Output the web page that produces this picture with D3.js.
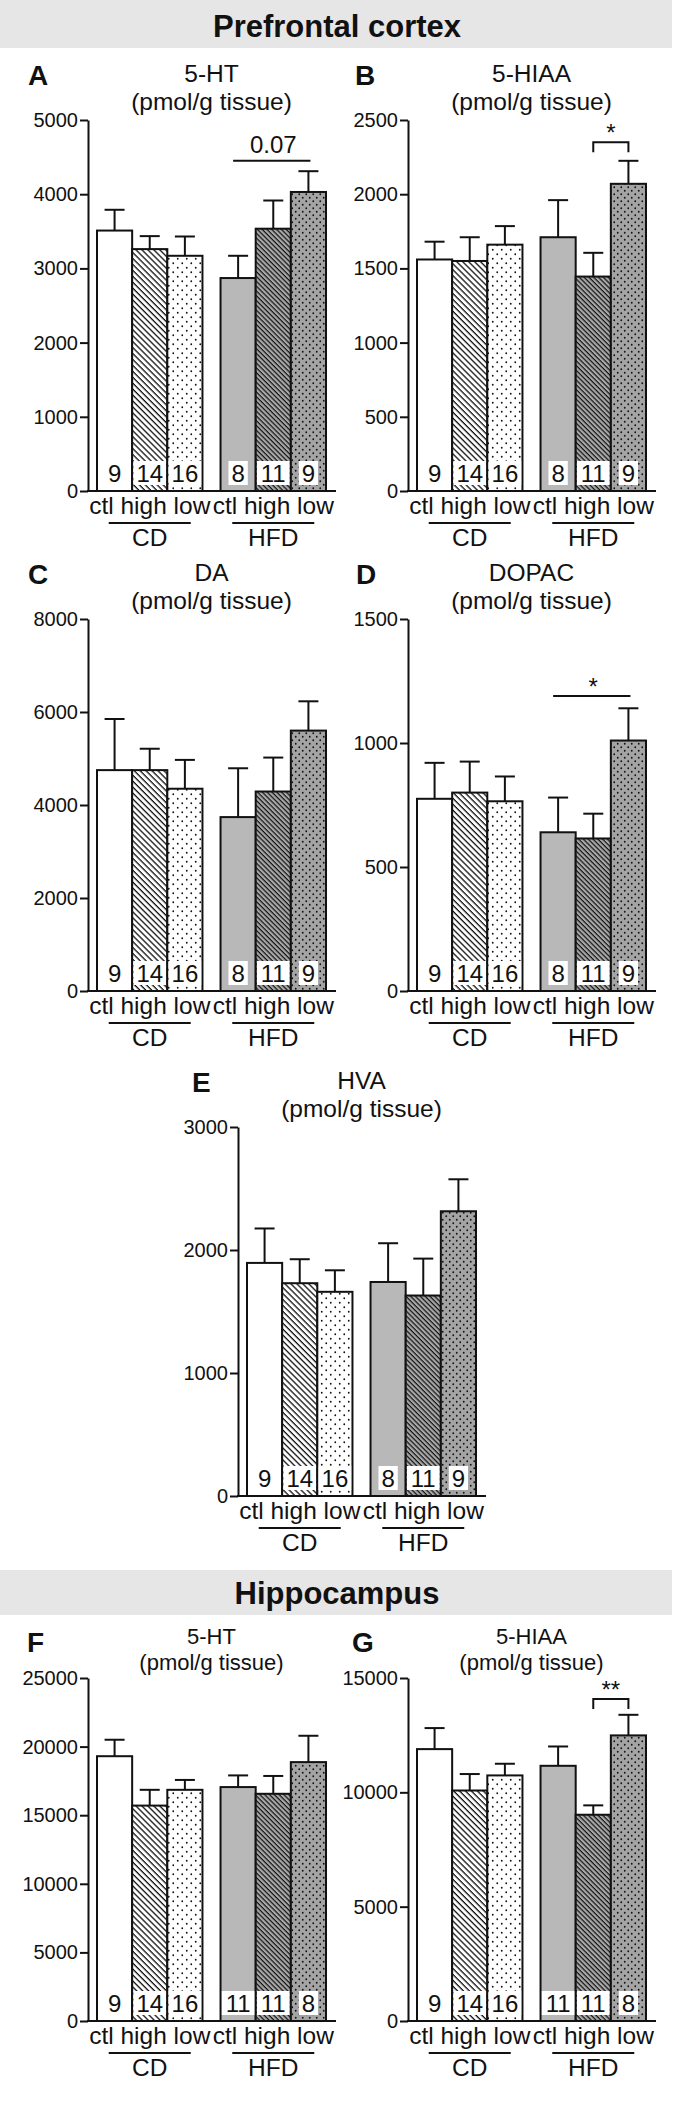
<!DOCTYPE html>
<html>
<head>
<meta charset="utf-8">
<script src="https://cdn.jsdelivr.net/npm/d3@7"></script>
<style>
body { margin: 0; background: #fff; }
svg text { font-family: "Liberation Sans", Arial, Helvetica, sans-serif; fill: #111; }
</style>
</head>
<body>
<div id="chart"></div>
<script>
// diets and treatments, bars go CD ctl/high/low then HFD ctl/high/low
var diets = ['CD', 'HFD'];
var treatments = ['ctl', 'high', 'low'];
var nPrefrontal = [9, 14, 16, 8, 11, 9];
var nHippocampus = [9, 14, 16, 11, 11, 8];

// prefrontal cortex (pmol/g tissue), mean and SEM
var pfc5htMean = [3510, 3260, 3170, 2870, 3535, 4030];
var pfc5htSem = [280, 175, 260, 300, 380, 280];
var pfc5htTicks = [0, 1000, 2000, 3000, 4000, 5000];

var pfc5hiaaMean = [1560, 1550, 1660, 1710, 1445, 2070];
var pfc5hiaaSem = [120, 160, 125, 250, 160, 155];
var pfc5hiaaTicks = [0, 500, 1000, 1500, 2000, 2500];

var pfcDaMean = [4750, 4750, 4350, 3740, 4290, 5600];
var pfcDaSem = [1100, 460, 620, 1050, 730, 630];
var pfcDaTicks = [0, 2000, 4000, 6000, 8000];

var pfcDopacMean = [775, 800, 765, 640, 615, 1010];
var pfcDopacSem = [145, 125, 100, 140, 100, 130];
var pfcDopacTicks = [0, 500, 1000, 1500];

var pfcHvaMean = [1895, 1730, 1660, 1740, 1630, 2315];
var pfcHvaSem = [280, 195, 175, 315, 300, 260];
var pfcHvaTicks = [0, 1000, 2000, 3000];

// hippocampus
var hip5htMean = [19300, 15700, 16850, 17050, 16560, 18870];
var hip5htSem = [1200, 1150, 720, 850, 1300, 1920];
var hip5htTicks = [0, 5000, 10000, 15000, 20000, 25000];

var hip5hiaaMean = [11890, 10080, 10740, 11160, 9020, 12490];
var hip5hiaaSem = [920, 720, 510, 845, 410, 900];
var hip5hiaaTicks = [0, 5000, 10000, 15000];

// significance marks: bar indices, level in data units, label
var pfc5htSig = { from: 3, to: 5, level: 4450, label: '0.07', bracket: false };
var pfc5hiaaSig = { from: 4, to: 5, level: 2350, label: '*', bracket: true };
var pfcDopacSig = { from: 3, to: 5, level: 1190, label: '*', bracket: false };
var hip5hiaaSig = { from: 4, to: 5, level: 14080, label: '**', bracket: true };

var panels = [
    { letter: 'A', name: '5-HT', mean: pfc5htMean, sem: pfc5htSem, ticks: pfc5htTicks, n: nPrefrontal, sig: pfc5htSig,
      x: 88, top: 120, bottom: 491, lx: 28, tight: false },
    { letter: 'B', name: '5-HIAA', mean: pfc5hiaaMean, sem: pfc5hiaaSem, ticks: pfc5hiaaTicks, n: nPrefrontal, sig: pfc5hiaaSig,
      x: 408, top: 120, bottom: 491, lx: 355, tight: false },
    { letter: 'C', name: 'DA', mean: pfcDaMean, sem: pfcDaSem, ticks: pfcDaTicks, n: nPrefrontal, sig: null,
      x: 88, top: 619, bottom: 991, lx: 28, tight: false },
    { letter: 'D', name: 'DOPAC', mean: pfcDopacMean, sem: pfcDopacSem, ticks: pfcDopacTicks, n: nPrefrontal, sig: pfcDopacSig,
      x: 408, top: 619, bottom: 991, lx: 356, tight: false },
    { letter: 'E', name: 'HVA', mean: pfcHvaMean, sem: pfcHvaSem, ticks: pfcHvaTicks, n: nPrefrontal, sig: null,
      x: 238, top: 1127, bottom: 1496, lx: 192, tight: false },
    { letter: 'F', name: '5-HT', mean: hip5htMean, sem: hip5htSem, ticks: hip5htTicks, n: nHippocampus, sig: null,
      x: 88, top: 1678, bottom: 2021, lx: 27, tight: true },
    { letter: 'G', name: '5-HIAA', mean: hip5hiaaMean, sem: hip5hiaaSem, ticks: hip5hiaaTicks, n: nHippocampus, sig: hip5hiaaSig,
      x: 408, top: 1678, bottom: 2021, lx: 352, tight: true }
];

var svg = d3.select('#chart').append('svg').attr('width', 674).attr('height', 2125);
var defs = svg.append('defs');

function hatch(id, bg, size, sw) {
    var p = defs.append('pattern').attr('id', id).attr('patternUnits', 'userSpaceOnUse')
        .attr('width', size).attr('height', size).attr('patternTransform', 'rotate(45)');
    p.append('rect').attr('width', size).attr('height', size).attr('fill', bg);
    p.append('rect').attr('width', size).attr('height', sw).attr('fill', '#111');
}
function dots(id, bg, size, r) {
    var p = defs.append('pattern').attr('id', id).attr('patternUnits', 'userSpaceOnUse')
        .attr('width', size).attr('height', size);
    p.append('rect').attr('width', size).attr('height', size).attr('fill', bg);
    p.append('circle').attr('cx', size / 4).attr('cy', size / 4).attr('r', r).attr('fill', '#111');
    p.append('circle').attr('cx', size * 3 / 4).attr('cy', size * 3 / 4).attr('r', r).attr('fill', '#111');
}
hatch('cdHigh', '#fff', 4.2, 1.3);
dots('cdLow', '#fff', 9, 0.9);
hatch('hfdHigh', '#a8a8a8', 3.4, 1.2);
dots('hfdLow', '#a4a4a4', 7, 0.9);
var fills = ['#fff', 'url(#cdHigh)', 'url(#cdLow)', '#b8b8b8', 'url(#hfdHigh)', 'url(#hfdLow)'];

function band(y0, y1, label, baseline) {
    svg.append('rect').attr('x', 0).attr('y', y0).attr('width', 672).attr('height', y1 - y0).attr('fill', '#e6e6e6');
    svg.append('text').attr('x', 337).attr('y', baseline).attr('text-anchor', 'middle')
        .style('font-size', '31px').style('font-weight', 'bold').text(label);
}
band(0, 48, 'Prefrontal cortex', 37);
band(1570, 1615, 'Hippocampus', 1604);

function drawPanel(p) {
    var g = svg.append('g');
    var y = d3.scaleLinear().domain([0, d3.max(p.ticks)]).range([p.bottom, p.top]);
    var x0 = d3.scaleBand().domain(diets).range([p.x + 9, p.x + 238]).paddingInner(0.1463);
    var x1 = d3.scaleBand().domain(treatments).range([0, x0.bandwidth()]);
    var bw = x1.bandwidth();
    var rows = p.mean.map(function(m, i) {
        return { diet: diets[Math.floor(i / 3)], trt: treatments[i % 3], mean: m, sem: p.sem[i], n: p.n[i], k: i };
    });
    function bx(d) { return x0(d.diet) + x1(d.trt); }
    function cx(d) { return bx(d) + bw / 2; }
    var mid = p.x + 9 + 229 / 2;

    // letter and title (hippocampus panels sit a little tighter)
    var titleSize = p.tight ? '22px' : '24.5px';
    g.append('text').attr('x', p.lx).attr('y', p.tight ? p.top - 26 : p.top - 35)
        .style('font-size', '28px').style('font-weight', 'bold').text(p.letter);
    g.append('text').attr('x', mid).attr('y', p.tight ? p.top - 34 : p.top - 38).attr('text-anchor', 'middle')
        .style('font-size', titleSize).text(p.name);
    g.append('text').attr('x', mid).attr('y', p.tight ? p.top - 8 : p.top - 10).attr('text-anchor', 'middle')
        .style('font-size', titleSize).text('(pmol/g tissue)');

    // error bars (up only)
    var eb = g.selectAll('.err').data(rows).enter().append('g').attr('class', 'err');
    eb.append('line').attr('x1', cx).attr('x2', cx)
        .attr('y1', function(d) { return y(d.mean); }).attr('y2', function(d) { return y(d.mean + d.sem); })
        .attr('stroke', '#111').attr('stroke-width', 2);
    eb.append('line').attr('x1', function(d) { return cx(d) - 10; }).attr('x2', function(d) { return cx(d) + 10; })
        .attr('y1', function(d) { return y(d.mean + d.sem); }).attr('y2', function(d) { return y(d.mean + d.sem); })
        .attr('stroke', '#111').attr('stroke-width', 2);

    g.selectAll('.bar').data(rows).enter().append('rect').attr('class', 'bar')
        .attr('x', bx).attr('y', function(d) { return y(d.mean); })
        .attr('width', bw).attr('height', function(d) { return y(0) - y(d.mean); })
        .attr('fill', function(d) { return fills[d.k]; })
        .attr('stroke', '#111').attr('stroke-width', 2);

    // sample sizes in white boxes
    g.selectAll('.nbox').data(rows).enter().append('rect').attr('class', 'nbox')
        .attr('x', function(d) { return cx(d) - (String(d.n).length * 13.3 + 6) / 2; })
        .attr('y', y(0) - 30).attr('width', function(d) { return String(d.n).length * 13.3 + 6; })
        .attr('height', 24).attr('fill', '#fff');
    g.selectAll('.ntxt').data(rows).enter().append('text').attr('class', 'ntxt')
        .attr('x', cx).attr('y', y(0) - 9).attr('text-anchor', 'middle')
        .style('font-size', '24px').text(function(d) { return d.n; });

    // axes
    var ax = g.append('g').attr('transform', 'translate(' + p.x + ',0)')
        .call(d3.axisLeft(y).tickValues(p.ticks).tickSize(8).tickSizeOuter(0).tickPadding(2).tickFormat(d3.format('d')));
    ax.selectAll('path, line').attr('stroke', '#111').attr('stroke-width', 2);
    ax.selectAll('text').style('font-size', '20px').attr('fill', '#111');
    g.append('line').attr('x1', p.x - 1).attr('x2', p.x + 248).attr('y1', y(0)).attr('y2', y(0))
        .attr('stroke', '#111').attr('stroke-width', 2);

    // group labels
    diets.forEach(function(dt) {
        var c = x0(dt) + x0.bandwidth() / 2;
        g.append('text').attr('x', c).attr('y', y(0) + 23).attr('text-anchor', 'middle')
            .style('font-size', '24.5px').text(treatments.join(' '));
        g.append('line').attr('x1', c - 41).attr('x2', c + 41).attr('y1', y(0) + 32).attr('y2', y(0) + 32)
            .attr('stroke', '#111').attr('stroke-width', 2);
        g.append('text').attr('x', c).attr('y', y(0) + 55).attr('text-anchor', 'middle')
            .style('font-size', '24.5px').text(dt);
    });

    // significance
    if (p.sig) {
        var s = p.sig, a = cx(rows[s.from]), b = cx(rows[s.to]), ly = y(s.level);
        if (s.bracket) {
            g.append('path').attr('d', 'M' + a + ',' + (ly + 10) + 'V' + ly + 'H' + b + 'V' + (ly + 10))
                .attr('fill', 'none').attr('stroke', '#111').attr('stroke-width', 2);
        } else {
            g.append('line').attr('x1', a - 5).attr('x2', b + 2).attr('y1', ly).attr('y2', ly)
                .attr('stroke', '#111').attr('stroke-width', 2);
        }
        g.append('text').attr('x', (a + b) / 2).attr('y', s.label === '0.07' ? ly - 8 : ly - 1)
            .attr('text-anchor', 'middle').style('font-size', '24px').text(s.label);
    }
}

panels.forEach(drawPanel);
</script>
</body>
</html>
